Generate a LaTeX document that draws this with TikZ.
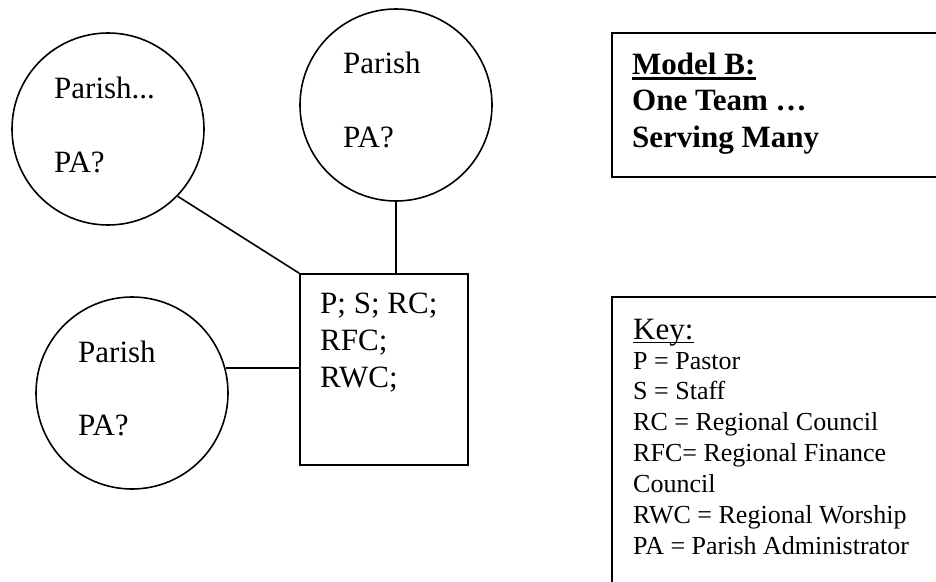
\documentclass[tikz,border=0pt]{standalone}
\usepackage{fontspec}
\setmainfont{Liberation Serif}
\begin{document}
\begin{tikzpicture}[x=1pt,y=-1pt,
  parish/.style={draw,circle,line width=1.6pt,minimum size=192pt,inner sep=0pt},
  teambox/.style={draw,rectangle,line width=1.6pt,inner sep=0pt},
  infobox/.style={draw,rectangle,line width=2.2pt,inner sep=0pt},
  big/.style={anchor=base west,inner sep=0pt,font=\fontsize{31}{36}\selectfont},
  bigb/.style={anchor=base west,inner sep=0pt,font=\fontsize{31}{36}\selectfont\bfseries},
  small/.style={anchor=base west,inner sep=0pt,font=\fontsize{26}{31}\selectfont},
  link/.style={line width=1.6pt}]
\useasboundingbox (0,0) rectangle (936,581);
\clip (0,0) rectangle (936,581);
\fill[white] (0,0) rectangle (936,581);

% circles
\node[parish] (c1) at (108,129) {};
\node[parish] (c2) at (396,105) {};
\node[parish] (c3) at (132,393) {};

\node[big] (c1a) at (54,98) {Parish...};
\node[big] (c1b) at (54,172) {PA?};
\node[big] (c2a) at (343,73) {Parish};
\node[big] (c2b) at (343,147) {PA?};
\node[big] (c3a) at (78,362) {Parish};
\node[big] (c3b) at (78,435) {PA?};

% team box
\node[teambox,minimum width=168pt,minimum height=191pt] (box) at (384,369.5) {};
\node[big] (t1) at (320,313) {P; S; RC;};
\node[big] (t2) at (320,350) {RFC;};
\node[big] (t3) at (320,387) {RWC;};

% connectors
\draw[link] (c1.-44) -- (box.north west);
\draw[link] (c2.south) -- (c2.south |- box.north);
\draw[link] (c3.15) -- (c3.15 -| box.west);

% Model B box
\node[infobox,minimum width=360pt,minimum height=144pt] (mb) at (792,105) {};
\node[bigb] (m1) at (632,74) {Model B:};
\draw[line width=2.6pt] ([yshift=-4.5pt]m1.base west) -- ([yshift=-4.5pt]m1.base east);
\node[bigb] (m2) at (632,110) {One Team …};
\node[bigb] (m3) at (632,147) {Serving Many};

% Key box
\node[infobox,minimum width=360pt,minimum height=340pt] (kb) at (792,467) {};
\node[big] (k0) at (633,339) {Key:};
\draw[line width=1.5pt] ([yshift=-3.5pt]k0.base west) -- ([yshift=-3.5pt]k0.base east);
\node[small] (k1) at (633,369) {P = Pastor};
\node[small] (k2) at (633,399) {S = Staff};
\node[small] (k3) at (633,430) {RC = Regional Council};
\node[small] (k4) at (633,461) {RFC= Regional Finance};
\node[small] (k5) at (633,492) {Council};
\node[small] (k6) at (633,523) {RWC = Regional Worship};
\node[small] (k7) at (633,554) {PA = Parish Administrator};
\end{tikzpicture}
\end{document}
